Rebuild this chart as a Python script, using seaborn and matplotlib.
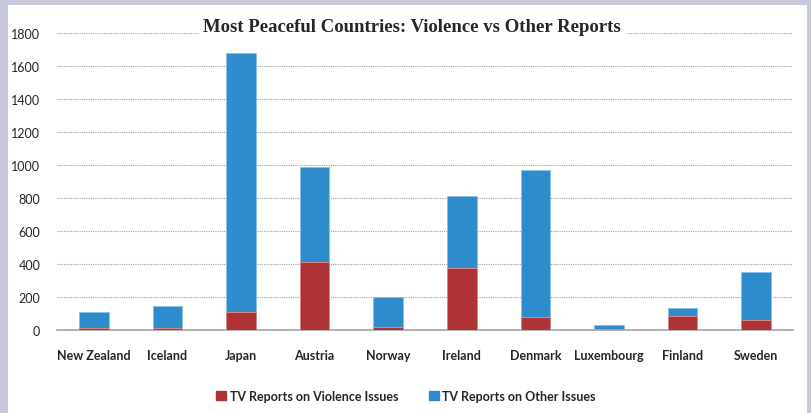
import numpy as np
import pandas as pd
import seaborn as sns
import matplotlib.pyplot as plt
from matplotlib.patches import Rectangle, Patch

countries = ['New Zealand', 'Iceland', 'Japan', 'Austria', 'Norway',
             'Ireland', 'Denmark', 'Luxembourg', 'Finland', 'Sweden']
violence = [10, 14, 107, 414, 20, 378, 81, 6, 85, 61]
other = [99, 133, 1572, 574, 180, 434, 889, 26, 50, 292]

RED = '#af3234'
BLUE = '#2e8bcc'

df = pd.DataFrame({'country': countries, 'violence': violence, 'other': other})
df['total'] = df['violence'] + df['other']

sns.set_style('white')
plt.rcParams['font.family'] = ['Lato', 'DejaVu Sans']

fig = plt.figure(figsize=(8.11, 4.14), dpi=100, facecolor='#c8cadc')
fig.patches.append(Rectangle((8/811, 0), 799/811, 408/414, transform=fig.transFigure,
                             facecolor='white', edgecolor='none', zorder=-10))
ax = fig.add_axes([57/811, 83/414, 736/811, 297/414])
ax.set_facecolor('none')

sns.barplot(data=df, x='country', y='total', color=BLUE, width=0.4, ax=ax, saturation=1,
            edgecolor='#8cc0e6', linewidth=0.7, zorder=3)
sns.barplot(data=df, x='country', y='violence', color=RED, width=0.4, ax=ax, saturation=1,
            edgecolor='#d88a8a', linewidth=0.7, zorder=4)

ax.set_ylim(0, 1800)
ax.set_xlim(-0.5, len(countries) - 0.5)
ax.set_yticks(range(0, 1801, 200))
ax.yaxis.grid(True, linestyle=(0, (1, 1)), color='#a0a0a0', linewidth=0.8)
ax.set_axisbelow(True)
for s in ['top', 'right', 'left']:
    ax.spines[s].set_visible(False)
ax.spines['bottom'].set_color('#a6a6a6')
ax.spines['bottom'].set_linewidth(1.2)

ax.set_xticks(np.arange(len(countries)))
ax.set_xticklabels(countries, fontweight='bold', fontsize=9, color='#262626')
ax.set_xticks(np.arange(-0.5, len(countries)), minor=True)
ax.tick_params(axis='x', which='major', length=0, pad=14)
ax.tick_params(axis='x', which='minor', length=4, color='#a6a6a6', width=1.2, direction='out')
ax.tick_params(axis='y', length=0, pad=12, labelsize=9, labelcolor='#262626')
ax.set_xlabel('')
ax.set_ylabel('')

fig.text(412/811, (414-28)/414, 'Most Peaceful Countries: Violence vs Other Reports',
         ha='center', va='center', fontsize=13.5, fontweight='bold', color='#262626',
         family='Liberation Serif', zorder=10,
         bbox=dict(facecolor='white', edgecolor='none', pad=4))

handles = [Patch(color=RED, label='TV Reports on Violence Issues'),
           Patch(color=BLUE, label='TV Reports on Other Issues')]
leg = fig.legend(handles=handles, loc='center', bbox_to_anchor=(406/811, 17/414), ncol=2,
                 frameon=False, handlelength=0.8, handleheight=0.8, handletextpad=0.3,
                 columnspacing=2.4, prop={'weight': 'bold', 'size': 9})
for t in leg.get_texts():
    t.set_color('#262626')

fig.savefig('out.png', dpi=100, facecolor=fig.get_facecolor())
